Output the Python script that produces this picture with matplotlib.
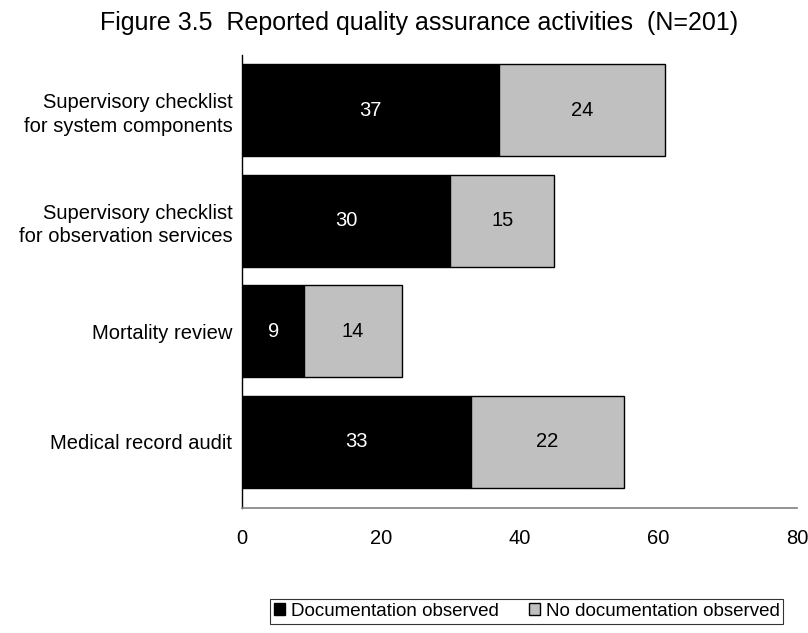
import matplotlib.pyplot as plt
from matplotlib.patches import Patch

plt.rcParams['font.family'] = ['Liberation Sans', 'DejaVu Sans']

# data (top to bottom)
categories = ['Supervisory checklist\nfor system components',
              'Supervisory checklist\nfor observation services',
              'Mortality review',
              'Medical record audit']
documented = [37, 30, 9, 33]
not_documented = [24, 15, 14, 22]
series_names = ['Documentation observed', 'No documentation observed']

fig = plt.figure(figsize=(8.08, 6.33), dpi=100)
ax = fig.add_axes([0.2995, 0.1975, 0.6869, 0.7155])

pos = list(range(len(categories)))[::-1]
b1 = ax.barh(pos, documented, height=0.83, color='black', edgecolor='black', linewidth=1)
b2 = ax.barh(pos, not_documented, left=documented, height=0.83,
             color='#c0c0c0', edgecolor='black', linewidth=1)

ax.bar_label(b1, labels=[str(v) for v in documented], label_type='center',
             color='white', fontsize=14.5)
ax.bar_label(b2, labels=[str(v) for v in not_documented], label_type='center',
             color='black', fontsize=14.5)

ax.set_xlim(0, 80)
ax.set_ylim(-0.6, 3.5)
ax.set_xticks([0, 20, 40, 60, 80])
ax.set_yticks(pos)
ax.set_yticklabels(categories, fontsize=14.5, linespacing=1.3)
ax.tick_params(axis='x', length=0, pad=15, labelsize=14.5)
ax.tick_params(axis='y', length=0, pad=7)

for s in ['top', 'right']:
    ax.spines[s].set_visible(False)
ax.spines['left'].set_color('black')
ax.spines['bottom'].set_color('#808080')
ax.spines['left'].set_linewidth(1)
ax.spines['bottom'].set_linewidth(1.2)

fig.text(0.519, 0.963, 'Figure 3.5  Reported quality assurance activities  (N=201)',
         ha='center', va='center', fontsize=18)

handles = [Patch(facecolor='black', edgecolor='black'),
           Patch(facecolor='#c0c0c0', edgecolor='black')]
leg = fig.legend(handles, series_names, loc='center', bbox_to_anchor=(0.652, 0.034),
                 ncol=2, fontsize=13.5, frameon=True, fancybox=False,
                 handlelength=0.6, handleheight=0.6, handletextpad=0.3,
                 columnspacing=1.6, borderpad=0.2)
leg.get_frame().set_edgecolor('black')
leg.get_frame().set_linewidth(0.8)

fig.savefig('out.png', dpi=100)
